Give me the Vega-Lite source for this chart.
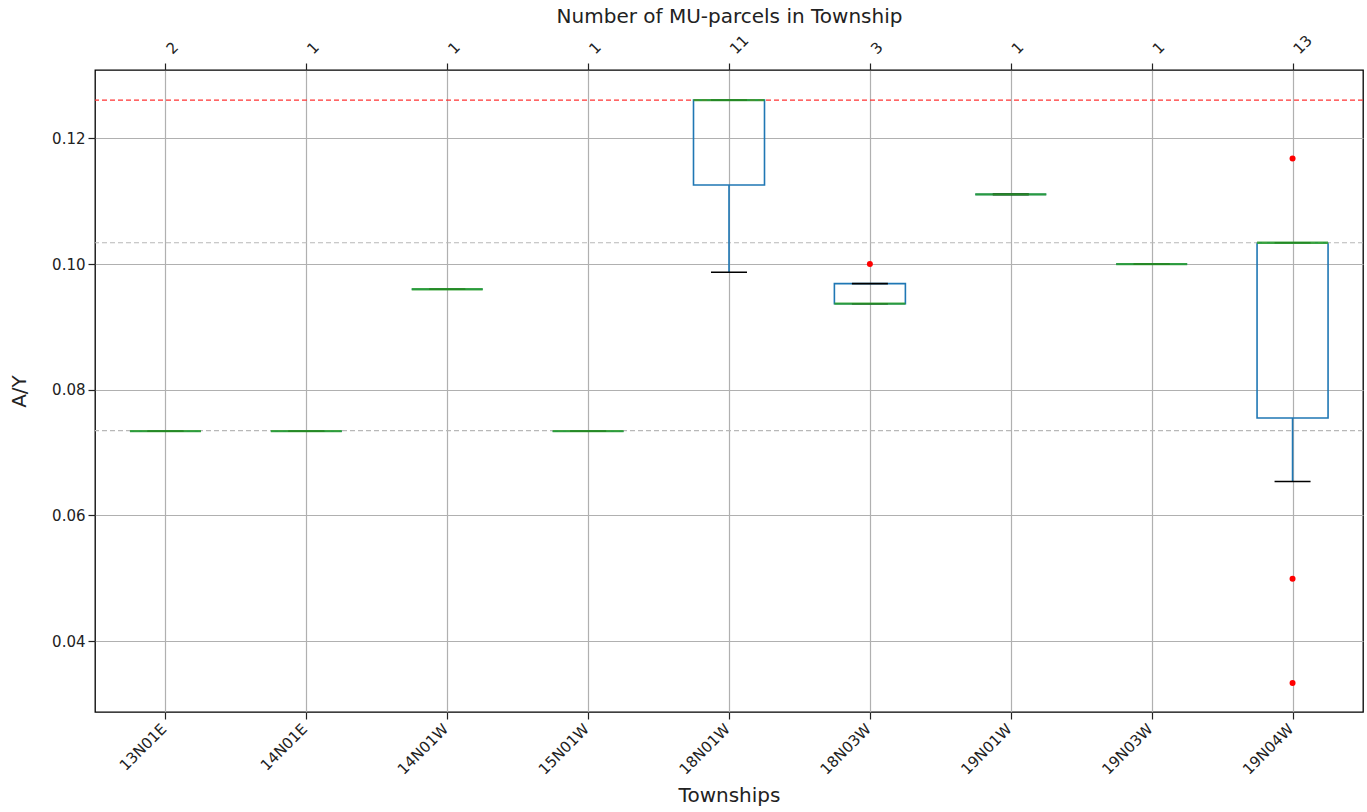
{
  "$schema": "https://vega.github.io/schema/vega-lite/v6.json",
  "width": 1268,
  "height": 642,
  "autosize": {"type": "none"},
  "padding": {"left": 95, "top": 70, "right": 4, "bottom": 100},
  "background": "white",
  "config": {
    "font": "DejaVu Sans",
    "view": {"stroke": "#000000", "strokeWidth": 1.3},
    "axis": {
      "labelFont": "DejaVu Sans",
      "titleFont": "DejaVu Sans",
      "labelFontSize": 15,
      "titleFontSize": 20,
      "titleFontWeight": "normal",
      "labelColor": "#222222",
      "titleColor": "#222222",
      "tickColor": "#222222",
      "tickSize": 7,
      "tickWidth": 1.2,
      "domain": false,
      "gridColor": "#b0b0b0",
      "gridWidth": 1.2,
      "labelPadding": 3
    }
  },
  "datasets": {
    "boxes": [
      {"t": "13N01E", "n": "2", "q1": 0.0734, "med": 0.0734, "q3": 0.0734, "lo": 0.0734, "hi": 0.0734},
      {"t": "14N01E", "n": "1", "q1": 0.0734, "med": 0.0734, "q3": 0.0734, "lo": 0.0734, "hi": 0.0734},
      {"t": "14N01W", "n": "1", "q1": 0.0960, "med": 0.0960, "q3": 0.0960, "lo": 0.0960, "hi": 0.0960},
      {"t": "15N01W", "n": "1", "q1": 0.0734, "med": 0.0734, "q3": 0.0734, "lo": 0.0734, "hi": 0.0734},
      {"t": "18N01W", "n": "11", "q1": 0.1126, "med": 0.1261, "q3": 0.1261, "lo": 0.0987, "hi": 0.1261},
      {"t": "18N03W", "n": "3", "q1": 0.0937, "med": 0.0937, "q3": 0.0969, "lo": 0.0937, "hi": 0.0969},
      {"t": "19N01W", "n": "1", "q1": 0.1111, "med": 0.1111, "q3": 0.1111, "lo": 0.1111, "hi": 0.1111},
      {"t": "19N03W", "n": "1", "q1": 0.1000, "med": 0.1000, "q3": 0.1000, "lo": 0.1000, "hi": 0.1000},
      {"t": "19N04W", "n": "13", "q1": 0.0755, "med": 0.1034, "q3": 0.1034, "lo": 0.0654, "hi": 0.1034}
    ],
    "outliers": [
      {"t": "18N03W", "v": 0.1000},
      {"t": "19N04W", "v": 0.1168},
      {"t": "19N04W", "v": 0.0499},
      {"t": "19N04W", "v": 0.0333}
    ],
    "refs": [
      {"v": 0.1261, "kind": "red"},
      {"v": 0.1034, "kind": "gray"},
      {"v": 0.0735, "kind": "gray"}
    ]
  },
  "resolve": {"axis": {"x": "independent"}},
  "layer": [
    {
      "data": {"name": "boxes"},
      "mark": {"type": "bar", "size": 71, "fill": "transparent", "stroke": "#1f77b4", "strokeWidth": 1.6},
      "encoding": {
        "x": {
          "field": "t", "type": "nominal", "sort": null,
          "scale": {"type": "point", "padding": 0.5},
          "axis": {"orient": "bottom", "title": "Townships", "labelAngle": -45, "labelOffset": -7, "labelPadding": 2, "grid": true, "titlePadding": 8}
        },
        "y": {
          "field": "q1", "type": "quantitative",
          "scale": {"domain": [0.0287, 0.1309], "nice": false, "zero": false},
          "axis": {"title": "A/Y", "values": [0.04, 0.06, 0.08, 0.1, 0.12], "format": ".2f", "grid": true, "titlePadding": 22}
        },
        "y2": {"field": "q3"}
      }
    },
    {
      "data": {"name": "refs"},
      "mark": {"type": "rule", "strokeWidth": 1.1, "strokeDash": [5, 3]},
      "encoding": {
        "y": {
          "field": "v", "type": "quantitative",
          "scale": {"domain": [0.0287, 0.1309], "nice": false, "zero": false},
          "axis": {"title": "A/Y", "values": [0.04, 0.06, 0.08, 0.1, 0.12], "format": ".2f", "grid": true, "titlePadding": 22}
        },
        "color": {
          "field": "kind", "type": "nominal",
          "scale": {"domain": ["red", "gray"], "range": ["#ff3333", "#b8b8b8"]},
          "legend": null
        }
      }
    },
    {
      "data": {"name": "boxes"},
      "mark": {"type": "rule", "stroke": "#1f77b4", "strokeWidth": 1.6},
      "encoding": {
        "x": {"field": "t", "type": "nominal", "sort": null, "scale": {"type": "point", "padding": 0.5}, "axis": null},
        "y": {
          "field": "lo", "type": "quantitative",
          "scale": {"domain": [0.0287, 0.1309], "nice": false, "zero": false},
          "axis": {"title": "A/Y", "values": [0.04, 0.06, 0.08, 0.1, 0.12], "format": ".2f", "grid": true, "titlePadding": 22}
        },
        "y2": {"field": "q1"}
      }
    },
    {
      "data": {"name": "boxes"},
      "mark": {"type": "rule", "stroke": "#1f77b4", "strokeWidth": 1.6},
      "encoding": {
        "x": {"field": "t", "type": "nominal", "sort": null, "scale": {"type": "point", "padding": 0.5}, "axis": null},
        "y": {
          "field": "q3", "type": "quantitative",
          "scale": {"domain": [0.0287, 0.1309], "nice": false, "zero": false},
          "axis": {"title": "A/Y", "values": [0.04, 0.06, 0.08, 0.1, 0.12], "format": ".2f", "grid": true, "titlePadding": 22}
        },
        "y2": {"field": "hi"}
      }
    },
    {
      "data": {"name": "boxes"},
      "mark": {"type": "tick", "color": "#000000", "size": 36, "thickness": 1.6, "opacity": 1},
      "encoding": {
        "x": {"field": "t", "type": "nominal", "sort": null, "scale": {"type": "point", "padding": 0.5}, "axis": null},
        "y": {
          "field": "lo", "type": "quantitative",
          "scale": {"domain": [0.0287, 0.1309], "nice": false, "zero": false},
          "axis": {"title": "A/Y", "values": [0.04, 0.06, 0.08, 0.1, 0.12], "format": ".2f", "grid": true, "titlePadding": 22}
        }
      }
    },
    {
      "data": {"name": "boxes"},
      "mark": {"type": "tick", "color": "#000000", "size": 36, "thickness": 1.6, "opacity": 1},
      "encoding": {
        "x": {"field": "t", "type": "nominal", "sort": null, "scale": {"type": "point", "padding": 0.5}, "axis": null},
        "y": {
          "field": "hi", "type": "quantitative",
          "scale": {"domain": [0.0287, 0.1309], "nice": false, "zero": false},
          "axis": {"title": "A/Y", "values": [0.04, 0.06, 0.08, 0.1, 0.12], "format": ".2f", "grid": true, "titlePadding": 22}
        }
      }
    },
    {
      "data": {"name": "boxes"},
      "mark": {"type": "tick", "color": "#2ca02c", "size": 71, "thickness": 2.3, "opacity": 0.85},
      "encoding": {
        "x": {
          "field": "t", "type": "nominal", "sort": null,
          "scale": {"type": "point", "padding": 0.5},
          "axis": {
            "orient": "top", "title": "Number of MU-parcels in Township", "grid": false,
            "labelAngle": -45, "labelAlign": "left", "labelBaseline": "middle",
            "labelPadding": 12, "labelOffset": 3,
            "labelExpr": "['2','1','1','1','11','3','1','1','13'][indexof(['13N01E','14N01E','14N01W','15N01W','18N01W','18N03W','19N01W','19N03W','19N04W'], datum.value)]",
            "titlePadding": 6
          }
        },
        "y": {
          "field": "med", "type": "quantitative",
          "scale": {"domain": [0.0287, 0.1309], "nice": false, "zero": false},
          "axis": {"title": "A/Y", "values": [0.04, 0.06, 0.08, 0.1, 0.12], "format": ".2f", "grid": true, "titlePadding": 22}
        }
      }
    },
    {
      "data": {"name": "outliers"},
      "mark": {"type": "circle", "color": "#ff0000", "size": 36, "opacity": 1},
      "encoding": {
        "x": {"field": "t", "type": "nominal", "sort": null, "scale": {"type": "point", "padding": 0.5}, "axis": null},
        "y": {
          "field": "v", "type": "quantitative",
          "scale": {"domain": [0.0287, 0.1309], "nice": false, "zero": false},
          "axis": {"title": "A/Y", "values": [0.04, 0.06, 0.08, 0.1, 0.12], "format": ".2f", "grid": true, "titlePadding": 22}
        }
      }
    }
  ]
}
